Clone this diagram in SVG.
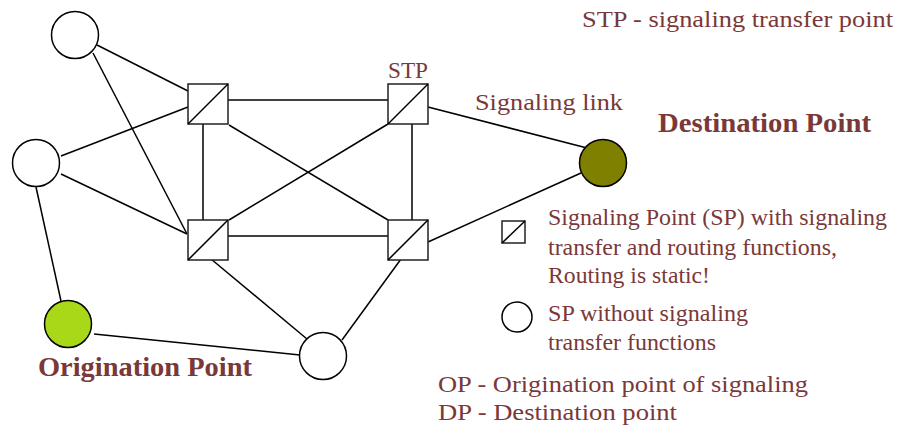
<svg xmlns="http://www.w3.org/2000/svg" width="897" height="425" viewBox="0 0 897 425">
<style>
.ln{stroke:#000;stroke-width:1.5;fill:none}
.nd{stroke:#000;stroke-width:1.5;fill:#fff}
.sq{stroke:#222;stroke-width:1.5;fill:#fff}
.t{font-family:"Liberation Serif","Times New Roman",serif;font-size:23px;fill:#7a3838}
.b{font-family:"Liberation Serif","Times New Roman",serif;font-size:27px;font-weight:bold;fill:#7a3838}
</style>
<rect width="897" height="425" fill="#fff"/>
<g id="connectors">
<line class="ln" x1="97" y1="45" x2="188" y2="91"/>
<line class="ln" x1="93" y1="53" x2="187" y2="234"/>
<line class="ln" x1="61" y1="156" x2="188" y2="107"/>
<line class="ln" x1="61" y1="174" x2="187" y2="234"/>
<line class="ln" x1="36" y1="187" x2="61" y2="301"/>
<line class="ln" x1="228" y1="100" x2="388" y2="100"/>
<line class="ln" x1="203" y1="124" x2="203" y2="220"/>
<line class="ln" x1="229" y1="125" x2="388" y2="220"/>
<line class="ln" x1="388" y1="124" x2="229" y2="220"/>
<line class="ln" x1="412" y1="124" x2="412" y2="220"/>
<line class="ln" x1="428" y1="107" x2="587" y2="148"/>
<line class="ln" x1="228" y1="236" x2="388" y2="236"/>
<line class="ln" x1="428" y1="242" x2="581" y2="173"/>
<line class="ln" x1="211" y1="259" x2="307" y2="339"/>
<line class="ln" x1="401" y1="259" x2="342" y2="340"/>
<line class="ln" x1="94" y1="334" x2="300" y2="355"/>
</g>
<g id="sp-top"><circle class="nd" cx="75" cy="35" r="23.5"/></g>
<g id="sp-left"><circle class="nd" cx="36" cy="163" r="23.5"/></g>
<g id="sp-bottom"><circle class="nd" cx="323" cy="356" r="23.5"/></g>
<g id="op"><circle cx="68" cy="324" r="23.5" fill="#a8d818" stroke="#000" stroke-width="1.5"/>
<text class="b" x="38" y="376" textLength="214" lengthAdjust="spacingAndGlyphs">Origination Point</text></g>
<g id="dp"><circle cx="603" cy="163" r="23.5" fill="#808000" stroke="#000" stroke-width="1.5"/>
<text class="b" x="658" y="132" textLength="213" lengthAdjust="spacingAndGlyphs">Destination Point</text></g>
<g id="stp-tl"><rect class="sq" x="188" y="84" width="40" height="40"/><line class="ln" x1="188" y1="124" x2="228" y2="84"/></g>
<g id="stp-tr"><rect class="sq" x="388" y="84" width="40" height="40"/><line class="ln" x1="388" y1="124" x2="428" y2="84"/>
<text class="t" x="388" y="78" textLength="40" lengthAdjust="spacingAndGlyphs">STP</text></g>
<g id="stp-bl"><rect class="sq" x="188" y="220" width="40" height="40"/><line class="ln" x1="188" y1="260" x2="228" y2="220"/></g>
<g id="stp-br"><rect class="sq" x="388" y="220" width="40" height="40"/><line class="ln" x1="388" y1="260" x2="428" y2="220"/></g>
<g id="labels">
<text class="t" x="582" y="27" textLength="311" lengthAdjust="spacingAndGlyphs">STP - signaling transfer point</text>
<text class="t" x="475" y="110" textLength="148" lengthAdjust="spacingAndGlyphs">Signaling link</text>
</g>
<g id="legend">
<rect class="sq" x="502" y="221" width="23" height="22"/><line class="ln" x1="502" y1="243" x2="525" y2="221"/>
<text class="t" x="548" y="225" textLength="339" lengthAdjust="spacingAndGlyphs">Signaling Point (SP) with signaling</text>
<text class="t" x="548" y="255" textLength="289" lengthAdjust="spacingAndGlyphs">transfer and routing functions,</text>
<text class="t" x="548" y="283" textLength="162" lengthAdjust="spacingAndGlyphs">Routing is static!</text>
<circle class="nd" cx="517" cy="317" r="15"/>
<text class="t" x="548" y="321" textLength="200" lengthAdjust="spacingAndGlyphs">SP without signaling</text>
<text class="t" x="548" y="350" textLength="168" lengthAdjust="spacingAndGlyphs">transfer functions</text>
<text class="t" x="438" y="392" textLength="370" lengthAdjust="spacingAndGlyphs">OP - Origination point of signaling</text>
<text class="t" x="438" y="420" textLength="239" lengthAdjust="spacingAndGlyphs">DP - Destination point</text>
</g>
</svg>
